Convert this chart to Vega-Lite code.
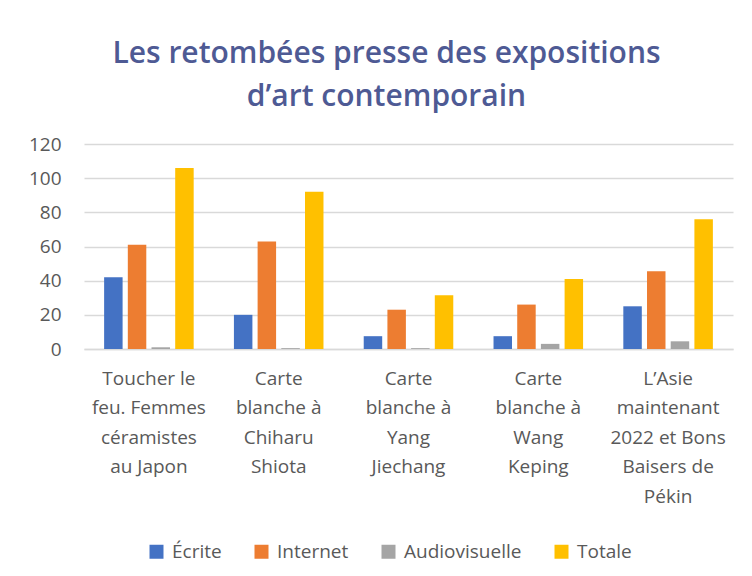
{
  "$schema": "https://vega.github.io/schema/vega-lite/v6.json",
  "width": 649,
  "height": 205,
  "autosize": {"type": "none"},
  "padding": {"left": 84, "top": 144, "right": 19, "bottom": 227},
  "background": "white",
  "title": {
    "text": ["Les retombées presse des expositions", "d’art contemporain"],
    "font": "Open Sans",
    "fontSize": 30,
    "fontWeight": 600,
    "color": "#4E5A94",
    "lineHeight": 43,
    "anchor": "middle",
    "dx": -22,
    "offset": 23
  },
  "data": {
    "values": [
      {"expo": "Toucher le|feu. Femmes|céramistes|au Japon", "type": "Écrite", "n": 42},
      {"expo": "Toucher le|feu. Femmes|céramistes|au Japon", "type": "Internet", "n": 61},
      {"expo": "Toucher le|feu. Femmes|céramistes|au Japon", "type": "Audiovisuelle", "n": 1},
      {"expo": "Toucher le|feu. Femmes|céramistes|au Japon", "type": "Totale", "n": 106},
      {"expo": "Carte|blanche à|Chiharu|Shiota", "type": "Écrite", "n": 20},
      {"expo": "Carte|blanche à|Chiharu|Shiota", "type": "Internet", "n": 63},
      {"expo": "Carte|blanche à|Chiharu|Shiota", "type": "Audiovisuelle", "n": 0.5},
      {"expo": "Carte|blanche à|Chiharu|Shiota", "type": "Totale", "n": 92},
      {"expo": "Carte|blanche à|Yang|Jiechang", "type": "Écrite", "n": 7.5},
      {"expo": "Carte|blanche à|Yang|Jiechang", "type": "Internet", "n": 23},
      {"expo": "Carte|blanche à|Yang|Jiechang", "type": "Audiovisuelle", "n": 0.5},
      {"expo": "Carte|blanche à|Yang|Jiechang", "type": "Totale", "n": 31.5},
      {"expo": "Carte|blanche à|Wang|Keping", "type": "Écrite", "n": 7.5},
      {"expo": "Carte|blanche à|Wang|Keping", "type": "Internet", "n": 26},
      {"expo": "Carte|blanche à|Wang|Keping", "type": "Audiovisuelle", "n": 3},
      {"expo": "Carte|blanche à|Wang|Keping", "type": "Totale", "n": 41},
      {"expo": "L’Asie|maintenant|2022 et Bons|Baisers de|Pékin", "type": "Écrite", "n": 25},
      {"expo": "L’Asie|maintenant|2022 et Bons|Baisers de|Pékin", "type": "Internet", "n": 45.5},
      {"expo": "L’Asie|maintenant|2022 et Bons|Baisers de|Pékin", "type": "Audiovisuelle", "n": 4.5},
      {"expo": "L’Asie|maintenant|2022 et Bons|Baisers de|Pékin", "type": "Totale", "n": 76}
    ]
  },
  "mark": {"type": "bar"},
  "encoding": {
    "x": {
      "field": "expo",
      "type": "nominal",
      "sort": null,
      "title": null,
      "scale": {"paddingInner": 0.31, "paddingOuter": 0.155},
      "axis": {
        "labelExpr": "split(datum.value, '|')",
        "labelAngle": 0,
        "labelFont": "Open Sans",
        "labelFontSize": 19,
        "labelColor": "#595959",
        "labelLineHeight": 29.5,
        "labelPadding": 20,
        "labelBaseline": "top",
        "ticks": false,
        "domain": true,
        "domainColor": "#D9D9D9",
        "domainWidth": 1.5,
        "labelLimit": 200
      }
    },
    "xOffset": {
      "field": "type",
      "type": "nominal",
      "sort": ["Écrite", "Internet", "Audiovisuelle", "Totale"],
      "scale": {"paddingInner": 0.22, "paddingOuter": 0}
    },
    "y": {
      "field": "n",
      "type": "quantitative",
      "title": null,
      "scale": {"domain": [0, 120]},
      "axis": {
        "values": [0, 20, 40, 60, 80, 100, 120],
        "labelFont": "Open Sans",
        "labelFontSize": 19,
        "labelColor": "#595959",
        "labelPadding": 23,
        "ticks": false,
        "domain": false,
        "gridColor": "#D9D9D9",
        "gridWidth": 1.5
      }
    },
    "color": {
      "field": "type",
      "type": "nominal",
      "title": null,
      "scale": {
        "domain": ["Écrite", "Internet", "Audiovisuelle", "Totale"],
        "range": ["#4472C4", "#ED7D31", "#A5A5A5", "#FFC000"]
      },
      "legend": {
        "orient": "none",
        "direction": "horizontal",
        "legendX": 63,
        "legendY": 398,
        "symbolType": "square",
        "symbolSize": 196,
        "symbolStrokeWidth": 0,
        "symbolOpacity": 1,
        "labelFont": "Open Sans",
        "labelFontSize": 19,
        "labelColor": "#595959",
        "columnPadding": 30,
        "labelOffset": 6
      }
    }
  },
  "config": {
    "view": {"stroke": null}
  }
}
